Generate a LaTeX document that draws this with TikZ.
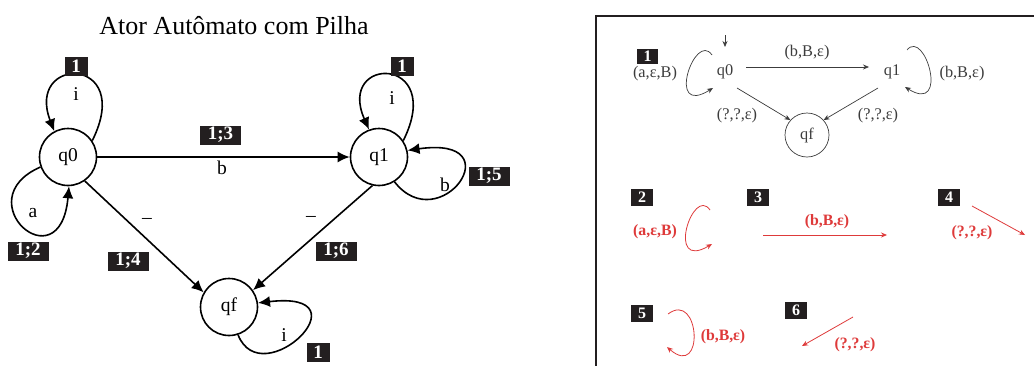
\documentclass[tikz,border=0pt]{standalone}
\usepackage{fontspec}
\setmainfont{Liberation Serif}
\usetikzlibrary{arrows.meta}
\definecolor{boxblack}{RGB}{35,31,32}
\definecolor{myred}{RGB}{222,58,58}
\definecolor{thin}{RGB}{60,60,60}
\begin{document}
\begin{tikzpicture}[x=1pt,y=-1pt,
  state/.style={circle,draw,line width=1.6pt,minimum size=57pt,inner sep=0pt,font=\fontsize{19.5}{22}\selectfont},
  edge/.style={line width=1.6pt,-{Latex[length=12pt,width=11pt]}},
  tag/.style={fill=boxblack,text=white,font=\bfseries\fontsize{19}{22}\selectfont,inner sep=0pt,minimum height=19pt},
  lbl/.style={font=\fontsize{19.5}{22}\selectfont,inner sep=0pt},
  rtag/.style={fill=boxblack,text=white,font=\bfseries\fontsize{16}{18}\selectfont,inner sep=0pt,minimum width=22pt,minimum height=17pt},
  rlbl/.style={font=\fontsize{16.3}{18}\selectfont,inner sep=0pt,text=thin},
  redlbl/.style={font=\bfseries\fontsize{15.8}{18}\selectfont,inner sep=0pt,text=myred},
  thinedge/.style={line width=0.7pt,draw=thin,-{Stealth[length=6pt,width=5pt]}},
  rededge/.style={line width=0.8pt,draw=myred,-{Stealth[length=6pt,width=5pt]}}]
\useasboundingbox (0,0) rectangle (1034,365);

% ---------- left diagram ----------
\node[font=\fontsize{26}{29}\selectfont,inner sep=0pt] (title) at (234,26) {Ator Autômato com Pilha};

\node[state] (q0) at (68,157) {q0};
\node[state] (q1) at (379,157) {q1};
\node[state] (qf) at (229,307) {qf};

\draw[edge] (q0.34) .. controls (135,55) and (25,55) .. (q0.118);
\draw[edge] (q0.200) .. controls (-35,200) and (60,285) .. (q0.272);
\draw[edge] (q1.34) .. controls (446,55) and (336,55) .. (q1.110);
\draw[edge] (q1.-58) .. controls (440,240) and (515,135) .. (q1.13);
\draw[edge] (qf.-72) .. controls (262,395) and (370,290) .. (qf.8);
\draw[edge] (q0) -- (q1);
\draw[edge] (q0.-55) -- (qf.150);
\draw[edge] (q1.-103) -- (qf.35);

\node[lbl] (li0) at (76,94) {i};
\node[lbl] (la) at (33,213) {a};
\node[lbl] (lb) at (222,168) {b};
\node[lbl] (ld1) at (147,221) {–};
\node[lbl] (ld2) at (311,219) {–};
\node[lbl] (li1) at (392,98) {i};
\node[lbl] (lb1) at (445,185) {b};
\node[lbl] (lif) at (284,335) {i};

\node[tag,minimum width=23pt] (t01) at (76,66) {1};
\node[tag,minimum width=41pt] (t13) at (220.5,135) {1;3};
\node[tag,minimum width=41pt] (t15) at (489,176) {1;5};
\node[tag,minimum width=41pt] (t12) at (28,251) {1;2};
\node[tag,minimum width=41pt] (t14) at (128,261) {1;4};
\node[tag,minimum width=41pt] (t16) at (336,251) {1;6};
\node[tag,minimum width=23pt] (t11) at (402,66) {1};
\node[tag,minimum width=23pt] (tf1) at (318,352) {1};

% ---------- right panel ----------
\draw[line width=2pt,draw=boxblack] (596,366) -- (596,16) -- (1036,16);

\node[rtag,minimum width=21pt,minimum height=15pt] (r1) at (647.5,56) {1};
\node[rlbl] (rq0) at (725,72) {q0};
\node[rlbl] (rq1) at (892,72) {q1};
\node[circle,draw=thin,line width=0.7pt,minimum size=44pt,inner sep=0pt,font=\fontsize{16.3}{18}\selectfont,text=thin] (rqf) at (807,135) {qf};
\coordinate (init) at (725,35);
\draw[thinedge] (init) -- ([yshift=-12pt]init);
\draw[thinedge] ([shift={(21,-5)}]rq0.center) -- ([shift={(-23,-5)}]rq1.center);
\draw[thinedge] ([shift={(-13,-17)}]rq0.center) .. controls (695,30) and (665,118) .. ([shift={(-12,16)}]rq0.center);
\draw[thinedge] ([shift={(15,-22)}]rq1.center) .. controls (925,28) and (950,115) .. ([shift={(13,15)}]rq1.center);
\draw[thinedge] ([shift={(12,16)}]rq0.center) -- (rqf.138);
\draw[thinedge] ([shift={(-14,16)}]rq1.center) -- (rqf.42);
\node[rlbl] (ra) at (655,74) {(a,ε,B)};
\node[rlbl] (rb) at (807,53) {(b,B,ε)};
\node[rlbl] (rb1) at (962,74) {(b,B,ε)};
\node[rlbl] (rl) at (737,116) {(?,?,ε)};
\node[rlbl] (rr) at (878,116) {(?,?,ε)};

% red parts
\node[rtag] (r2) at (642,197.5) {2};
\node[rtag] (r3) at (758,197.5) {3};
\node[rtag] (r4) at (949,197) {4};
\node[rtag] (r5) at (642,313.5) {5};
\node[rtag] (r6) at (796,310) {6};

\coordinate (a2s) at (710,210); \coordinate (a2e) at (712,244);
\draw[rededge] (a2s) .. controls (693,185) and (665,272) .. (a2e);
\node[redlbl] (l2) at (655,232) {(a,ε,B)};

\coordinate (a3s) at (763,235); \coordinate (a3e) at (887,235);
\draw[rededge] (a3s) -- (a3e);
\node[redlbl] (l3) at (827,222) {(b,B,ε)};

\coordinate (a4s) at (972,206); \coordinate (a4e) at (1025,235);
\draw[rededge] (a4s) -- (a4e);
\node[redlbl] (l4) at (972,233) {(?,?,ε)};

\coordinate (a5s) at (668,314); \coordinate (a5e) at (667,347);
\draw[rededge] (a5s) .. controls (700,290) and (705,380) .. (a5e);
\node[redlbl] (l5) at (723,337) {(b,B,ε)};

\coordinate (a6s) at (853,317); \coordinate (a6e) at (802,346);
\draw[rededge] (a6s) -- (a6e);
\node[redlbl] (l6) at (855,345) {(?,?,ε)};
\end{tikzpicture}
\end{document}
